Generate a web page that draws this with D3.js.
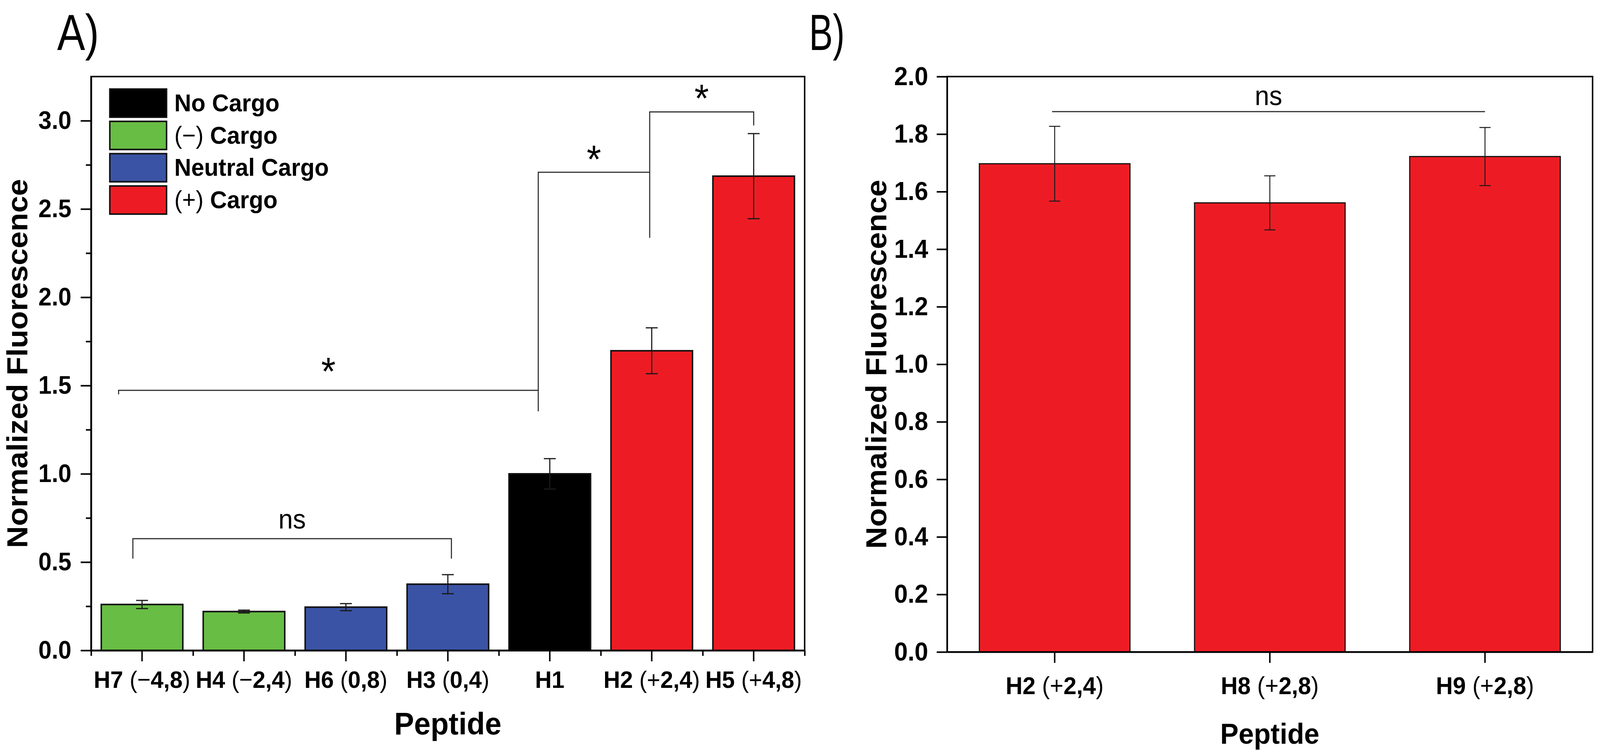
<!DOCTYPE html>
<html>
<head>
<meta charset="utf-8">
<script src="https://cdn.jsdelivr.net/npm/d3@7"></script>
<style>
  html, body { margin: 0; padding: 0; background: #fff; overflow: hidden; }
  svg { display: block; }
  text { font-family: "Liberation Sans", Arial, sans-serif; fill: #000; }
</style>
</head>
<body>
<div id="chart"></div>
<script>
// panel A data
const catsA = ['H7 (−4,8)', 'H4 (−2,4)', 'H6 (0,8)', 'H3 (0,4)', 'H1', 'H2 (+2,4)', 'H5 (+4,8)'];
const valsA = [0.26, 0.22, 0.245, 0.375, 1.0, 1.697, 2.686];
const errsA = [0.023, 0.008, 0.02, 0.054, 0.086, 0.13, 0.241];
const groupA = ['neg', 'neg', 'neu', 'neu', 'none', 'pos', 'pos'];
const ticksA = [0, 0.5, 1.0, 1.5, 2.0, 2.5, 3.0];
const minorTicksA = [0.25, 0.75, 1.25, 1.75, 2.25, 2.75];

// legend
const legendKeys = ['none', 'neg', 'neu', 'pos'];
const legendLabels = ['No Cargo', '(−) Cargo', 'Neutral Cargo', '(+) Cargo'];

// panel B data
const catsB = ['H2 (+2,4)', 'H8 (+2,8)', 'H9 (+2,8)'];
const valsB = [1.697, 1.561, 1.722];
const errsB = [0.13, 0.094, 0.101];
const ticksB = [0, 0.2, 0.4, 0.6, 0.8, 1.0, 1.2, 1.4, 1.6, 1.8, 2.0];

// significance brackets, ends in category-index units, heights in data units
const bracketsA = [
  { x1: -0.09, x2: 3.035, level: 0.633, end1: 0.52, end2: 0.52, label: 'ns', labelAt: 0.69 },
  { x1: -0.23, x2: 3.887, level: 1.473, end1: 1.45, end2: 1.354, label: '*', labelAt: 1.505 },
  { x1: 3.887, x2: 4.98, level: 2.708, end1: 1.473, end2: 2.337, label: '*', labelAt: 2.705 },
  { x1: 4.98, x2: 6.0, level: 3.05, end1: 2.708, end2: 2.973, label: '*', labelAt: 3.05 }
];
const bracketsB = [
  { x1: -0.012, x2: 2.0, level: 1.878, end1: 1.878, end2: 1.878, label: 'ns', labelAt: 1.901 }
];

const colors = { none: '#000000', neg: '#68bd45', neu: '#3a53a4', pos: '#ed1c24' };

const W = 4313, H = 1920;
// drawn in a 4313x1920 box that is stretched to the window
const svg = d3.select('#chart').append('svg')
  .attr('viewBox', '0 0 ' + W + ' ' + H)
  .attr('preserveAspectRatio', 'none')
  .style('width', '100vw').style('height', '100vh')
  .style('background', '#fff');

// bold text with lighter brackets and signs, as in the figure
function fancy(sel) {
  sel.each(function () {
    const t = d3.select(this), s = t.text();
    t.text(null);
    s.split(/([()+−])/).filter(p => p).forEach(p => {
      t.append('tspan')
        .attr('font-weight', /[()+−]/.test(p) ? 'normal' : 'bold')
        .text(p);
    });
  });
}

function panel(o) {
  const g = svg.append('g');
  const x = d3.scaleBand().domain(o.cats).range([o.left, o.right])
    .paddingInner(o.pad).paddingOuter(o.pad / 2);
  const y = d3.scaleLinear().domain([0, o.ymax]).range([o.bottom, o.top]);
  const ix = d3.scaleLinear().domain([0, 1])
    .range([x(o.cats[0]) + x.bandwidth() / 2, x(o.cats[0]) + x.bandwidth() / 2 + x.step()]);

  // bars
  g.selectAll('rect.bar').data(o.vals).join('rect')
    .attr('class', 'bar')
    .attr('x', (d, i) => x(o.cats[i]))
    .attr('y', d => y(d))
    .attr('width', x.bandwidth())
    .attr('height', d => y(0) - y(d))
    .attr('fill', (d, i) => colors[o.groups[i]])
    .attr('stroke', '#111')
    .attr('stroke-width', o.barStroke);

  // error bars
  const eb = g.selectAll('g.err').data(o.vals).join('g').attr('class', 'err')
    .attr('stroke', '#1a1a1a').attr('stroke-width', o.errStroke);
  eb.append('line')
    .attr('x1', (d, i) => x(o.cats[i]) + x.bandwidth() / 2)
    .attr('x2', (d, i) => x(o.cats[i]) + x.bandwidth() / 2)
    .attr('y1', (d, i) => y(d - o.errs[i]))
    .attr('y2', (d, i) => y(d + o.errs[i]));
  [1, -1].forEach(s => {
    eb.append('line')
      .attr('x1', (d, i) => x(o.cats[i]) + x.bandwidth() / 2 - o.cap / 2)
      .attr('x2', (d, i) => x(o.cats[i]) + x.bandwidth() / 2 + o.cap / 2)
      .attr('y1', (d, i) => y(d + s * o.errs[i]))
      .attr('y2', (d, i) => y(d + s * o.errs[i]));
  });

  // brackets
  o.brackets.forEach(b => {
    g.append('path')
      .attr('fill', 'none').attr('stroke', '#333').attr('stroke-width', 3)
      .attr('d', 'M' + ix(b.x1) + ',' + y(b.end1) + 'V' + y(b.level) +
                 'H' + ix(b.x2) + 'V' + y(b.end2));
    g.append('text')
      .attr('x', (ix(b.x1) + ix(b.x2)) / 2)
      .attr('y', y(b.labelAt))
      .attr('text-anchor', 'middle')
      .attr('font-size', b.label == '*' ? 100 : 70)
      .text(b.label);
  });

  // axes
  const xa = g.append('g').attr('transform', 'translate(0,' + o.bottom + ')')
    .call(d3.axisBottom(x).tickSize(28).tickSizeOuter(0).tickPadding(o.xPad));
  xa.selectAll('text').attr('font-size', o.xFont).call(fancy);
  if (o.minorX) {
    const edge = d3.scaleLinear().domain([0, o.cats.length]).range([o.left, o.right]);
    g.append('g').attr('transform', 'translate(0,' + o.bottom + ')')
      .call(d3.axisBottom(edge).tickValues(d3.range(o.cats.length + 1))
        .tickSize(14).tickSizeOuter(0).tickFormat(''));
  }
  const ya = g.append('g').attr('transform', 'translate(' + o.left + ',0)')
    .call(d3.axisLeft(y).tickValues(o.ticks).tickFormat(d3.format('.1f'))
      .tickSize(28).tickSizeOuter(0).tickPadding(o.yPad));
  ya.selectAll('text').attr('font-size', o.yFont).attr('font-weight', 'bold');
  if (o.minorY) {
    g.append('g').attr('transform', 'translate(' + o.left + ',0)')
      .call(d3.axisLeft(y).tickValues(o.minorY).tickSize(14).tickSizeOuter(0).tickFormat(''));
  }
  g.selectAll('.tick line, .domain').attr('stroke', '#000').attr('stroke-width', 4);

  // frame
  g.append('rect')
    .attr('x', o.left).attr('y', o.top)
    .attr('width', o.right - o.left).attr('height', o.bottom - o.top)
    .attr('fill', 'none').attr('stroke', '#000').attr('stroke-width', 4);

  // titles
  g.append('text')
    .attr('transform', 'translate(' + o.yTitleX + ',' + (o.top + o.bottom) / 2 + ') rotate(-90)')
    .attr('text-anchor', 'middle').attr('font-size', 78).attr('font-weight', 'bold')
    .text('Normalized Fluorescence');
  g.append('text')
    .attr('x', (o.left + o.right) / 2).attr('y', o.xTitleY)
    .attr('text-anchor', 'middle').attr('font-size', o.xTitleFont).attr('font-weight', 'bold')
    .text('Peptide');
  g.append('text')
    .attr('x', o.tagX).attr('y', 128)
    .attr('font-size', 130)
    .attr('textLength', o.tagW).attr('lengthAdjust', 'spacingAndGlyphs')
    .style('font-family', '"Liberation Sans Narrow", "Liberation Sans", sans-serif')
    .text(o.tag);
  return g;
}

const gA = panel({
  cats: catsA, vals: valsA, errs: errsA, groups: groupA, ticks: ticksA, minorY: minorTicksA,
  minorX: true, ymax: 3.25, left: 245.5, right: 2169, top: 196, bottom: 1665,
  pad: 0.2, barStroke: 4, errStroke: 3, cap: 32, brackets: bracketsA,
  xFont: 62, xPad: 24, yFont: 64, yPad: 25, yTitleX: 74, xTitleY: 1880, xTitleFont: 80,
  tag: 'A)', tagX: 154, tagW: 113
});

const gB = panel({
  cats: catsB, vals: valsB, errs: errsB, groups: ['pos', 'pos', 'pos'], ticks: ticksB, minorY: null,
  minorX: false, ymax: 2.0, left: 2553, right: 4293, top: 196, bottom: 1669,
  pad: 0.3, barStroke: 3, errStroke: 2.5, cap: 30, brackets: bracketsB,
  xFont: 63, xPad: 35, yFont: 66, yPad: 23, yTitleX: 2389, xTitleY: 1904, xTitleFont: 74,
  tag: 'B)', tagX: 2181, tagW: 96
});

// legend inside panel A
const leg = gA.append('g').attr('transform', 'translate(296,228)');
const row = leg.selectAll('g').data(legendKeys).join('g')
  .attr('transform', (d, i) => 'translate(0,' + i * 82.7 + ')');
row.append('rect')
  .attr('width', 153).attr('height', 72)
  .attr('fill', d => colors[d]).attr('stroke', '#111').attr('stroke-width', 4);
row.append('text')
  .attr('x', 174).attr('y', 57)
  .attr('font-size', 63)
  .text((d, i) => legendLabels[i])
  .call(fancy);
</script>
</body>
</html>
